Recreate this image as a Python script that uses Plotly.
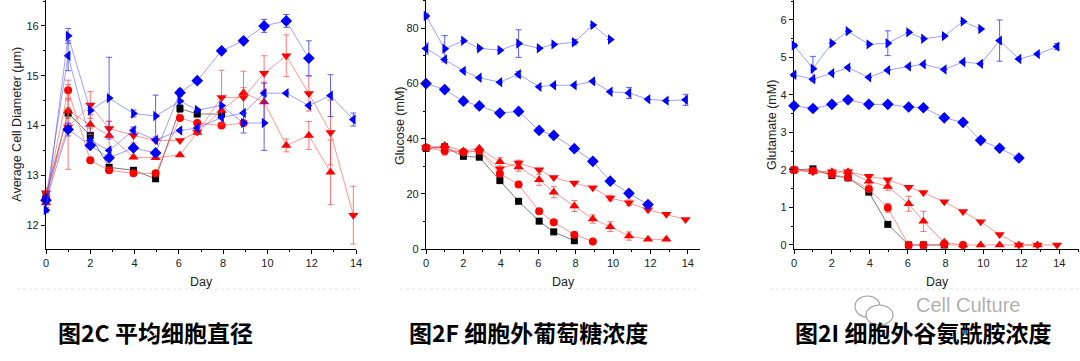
import plotly.graph_objects as go

# ---------------- data ----------------
days = [0, 1, 2, 2.85, 3.95, 4.95, 6.05, 6.83, 7.93, 8.92, 9.85, 10.85, 11.87, 12.85, 13.88]

series_names = ["black_square", "red_circle", "red_up", "red_down", "blue_diamond", "blue_left", "blue_right"]

# Average cell diameter (um)
diam_black = [12.6, 14.25, 13.8, 13.16, 13.1, 12.93, 14.34, 14.23, 14.23]
diam_red_circle = [12.55, 14.71, 13.3, 13.1, 13.04, 13.04, 14.15, 14.05, 14.0, 14.05]
diam_red_up = [12.45, 14.29, 14.02, 13.8, 13.36, 13.35, 13.41, 13.86, 14.3, 14.66, 14.47, 13.6, 13.8, 13.06]
diam_red_down = [12.65, 13.97, 14.41, 13.94, 13.8, 13.7, 13.7, 13.87, 14.56, 14.56, 15.05, 15.4, 14.64, 13.86, 12.2]
diam_blue_diamond = [12.5, 13.92, 13.6, 13.35, 13.55, 13.45, 14.66, 14.9, 15.5, 15.7, 16.0, 16.1, 15.35]
diam_blue_left = [12.55, 15.4, 13.7, 13.5, 13.9, 13.71, 13.9, 13.95, 14.16, 14.25, 14.65, 14.65, 14.4, 14.6, 14.12]
diam_blue_right = [12.3, 15.8, 14.3, 14.55, 14.24, 14.19, 14.49, 14.31, 14.4, 14.05, 14.05]

diam_err_black = [None, 0.1, 0.15, None, 0.05, 0.05, 0.08, 0.05, None]
diam_err_red_circle = [0.15, 0.2, None, None, 0.05, 0.05, None, None, None, None]
diam_err_red_up = [None, 0.25, 0.2, 0.28, None, None, None, None, 0.25, 0.1, 0.4, 0.13, 0.28, 0.65]
diam_err_red_down = [0.1, 0.85, 0.27, 0.15, 0.15, None, None, None, 0.55, 0.53, 0.35, 0.42, 0.35, 0.65, 0.58]
diam_err_blue_diamond = [None, 0.13, None, None, None, None, 0.07, None, None, None, 0.13, 0.13, 0.35]
diam_err_blue_left = [None, 0.3, None, None, 0.07, None, None, None, None, None, 0.2, None, None, 0.42, 0.13]
diam_err_blue_right = [0.05, 0.15, None, 0.82, 0.07, 0.42, None, None, None, 0.2, 0.55]

# Glucose (mM)
gluc_black = [36.5, 37.0, 33.6, 33.3, 24.8, 17.3, 10.1, 6.2, 3.0]
gluc_red_circle = [36.8, 35.5, 35.2, 35.5, 27.3, 23.4, 13.7, 9.7, 5.2, 2.7]
gluc_red_up = [36.8, 37.5, 35.5, 36.5, 31.6, 29.7, 25.1, 20.6, 15.6, 10.9, 8.1, 4.7, 3.5, 3.5]
gluc_red_down = [36.8, 36.5, 35.0, 35.5, 29.1, 31.2, 28.7, 25.9, 23.9, 22.2, 18.5, 16.8, 14.2, 12.6, 10.7]
gluc_blue_diamond = [60.0, 57.8, 53.6, 51.9, 49.3, 49.9, 43.0, 41.2, 36.4, 31.8, 24.6, 20.2, 16.1]
gluc_blue_left = [72.7, 68.7, 64.6, 62.1, 60.5, 63.4, 58.8, 59.4, 59.4, 60.8, 57.0, 56.6, 54.3, 53.8, 54.1]
gluc_blue_right = [84.5, 72.6, 75.5, 72.8, 72.1, 74.5, 72.8, 74.2, 75.0, 81.2, 76.0]

gluc_err_black = [None, 1.2, None, None, None, None, None, None, None]
gluc_err_red_circle = [1.0, 1.5, None, None, None, None, None, None, None, None]
gluc_err_red_up = [None, None, None, None, 1.5, 1.5, 2.0, 2.0, 2.0, 1.5, 1.8, 1.5, None, None]
gluc_err_red_down = [None, None, None, None, None, 1.0, None, None, None, None, 1.0, 1.0, None, None, None]
gluc_err_blue_diamond = [None] * 13
gluc_err_blue_left = [2.0, None, None, None, None, 1.0, None, None, None, None, None, 2.0, None, None, 2.0]
gluc_err_blue_right = [1.0, 4.8, None, None, None, 5.0, None, None, 1.0, None, None]

# Glutamate (mM)
glut_black = [2.0, 2.03, 1.85, 1.79, 1.41, 0.55, 0, 0, 0]
glut_red_circle = [2.0, 1.98, 1.88, 1.8, 1.49, 0.99, 0, 0, 0.02, 0]
glut_red_up = [2.0, 1.95, 1.95, 1.95, 1.7, 1.56, 1.1, 0.63, 0.07, 0, 0, 0, 0, 0]
glut_red_down = [2.0, 1.95, 1.95, 1.95, 1.83, 1.74, 1.54, 1.4, 1.15, 0.89, 0.62, 0.28, 0, 0, 0]
glut_blue_diamond = [3.71, 3.64, 3.75, 3.87, 3.75, 3.75, 3.68, 3.66, 3.39, 3.27, 2.79, 2.58, 2.32]
glut_blue_left = [4.54, 4.42, 4.58, 4.73, 4.47, 4.66, 4.76, 4.82, 4.68, 4.88, 4.83, 5.45, 4.96, 5.09, 5.29]
glut_blue_right = [5.32, 4.70, 5.38, 5.7, 5.35, 5.38, 5.67, 5.5, 5.57, 5.96, 5.76]

glut_err_black = [None, 0.05, None, None, None, None, None, None, None]
glut_err_red_circle = [None, None, None, None, None, 0.12, None, None, None, None]
glut_err_red_up = [None, None, None, None, 0.1, 0.1, 0.2, 0.27, 0.05, None, None, None, None, None]
glut_err_red_down = [None] * 15
glut_err_blue_diamond = [None] * 13
glut_err_blue_left = [0.05, None, None, None, None, None, None, None, None, None, None, 0.55, None, None, 0.08]
glut_err_blue_right = [0.05, 0.33, None, None, None, 0.33, None, None, None, None, None]

x_tick_vals = [0, 2, 4, 6, 8, 10, 12, 14]
diam_ticks = [12, 13, 14, 15, 16]
gluc_ticks = [0, 20, 40, 60, 80]
glut_ticks = [0, 1, 2, 3, 4, 5, 6]

captions = ["图2C 平均细胞直径", "图2F 细胞外葡萄糖浓度", "图2I 细胞外谷氨酰胺浓度"]
y_titles = ["Average Cell Diameter (μm)", "Glucose (mM)", "Glutamate (mM)"]

# ---------------- styles ----------------
styles = {
    "black_square": dict(symbol="square", color="#000000", line="rgba(90,90,90,0.8)", err="rgba(60,60,60,0.7)", size=7),
    "red_circle": dict(symbol="circle", color="#FF0000", line="rgba(255,80,80,0.6)", err="rgba(255,60,60,0.7)", size=8),
    "red_up": dict(symbol="triangle-up", color="#FF0000", line="rgba(255,80,80,0.6)", err="rgba(255,60,60,0.7)", size=9),
    "red_down": dict(symbol="triangle-down", color="#FF0000", line="rgba(255,80,80,0.6)", err="rgba(255,60,60,0.7)", size=9),
    "blue_diamond": dict(symbol="diamond", color="#0000FF", line="rgba(80,80,255,0.55)", err="rgba(40,40,255,0.75)", size=9),
    "blue_left": dict(symbol="triangle-left", color="#0000FF", line="rgba(80,80,255,0.55)", err="rgba(40,40,255,0.75)", size=9),
    "blue_right": dict(symbol="triangle-right", color="#0000FF", line="rgba(80,80,255,0.55)", err="rgba(40,40,255,0.75)", size=9),
}

panels = [
    ([diam_black, diam_red_circle, diam_red_up, diam_red_down, diam_blue_diamond, diam_blue_left, diam_blue_right],
     [diam_err_black, diam_err_red_circle, diam_err_red_up, diam_err_red_down, diam_err_blue_diamond, diam_err_blue_left, diam_err_blue_right]),
    ([gluc_black, gluc_red_circle, gluc_red_up, gluc_red_down, gluc_blue_diamond, gluc_blue_left, gluc_blue_right],
     [gluc_err_black, gluc_err_red_circle, gluc_err_red_up, gluc_err_red_down, gluc_err_blue_diamond, gluc_err_blue_left, gluc_err_blue_right]),
    ([glut_black, glut_red_circle, glut_red_up, glut_red_down, glut_blue_diamond, glut_blue_left, glut_blue_right],
     [glut_err_black, glut_err_red_circle, glut_err_red_up, glut_err_red_down, glut_err_blue_diamond, glut_err_blue_left, glut_err_blue_right]),
]

fig = go.Figure()
for pi, (vals, errs) in enumerate(panels):
    suffix = "" if pi == 0 else str(pi + 1)
    for name, v, e in zip(series_names, vals, errs):
        st = styles[name]
        fig.add_trace(go.Scatter(
            x=days[:len(v)], y=v, mode="lines+markers",
            xaxis="x" + suffix, yaxis="y" + suffix,
            line=dict(color=st["line"], width=1),
            marker=dict(symbol=st["symbol"], color=st["color"], size=st["size"], line=dict(width=0)),
            error_y=dict(type="data", array=e, color=st["err"], thickness=1, width=3),
            cliponaxis=False, showlegend=False, name=name,
        ))

W, H = 1080, 361
def px(x):
    return x / W
def py(y):
    return 1 - y / H

ydom = [py(249), 1]
tickfont = dict(family="Liberation Sans, Arial", size=11, color="#222222")
axis_common = dict(showgrid=False, zeroline=False, showline=True, linecolor="#000000", linewidth=1.3,
                   ticks="outside", ticklen=4, tickwidth=1, tickcolor="#000000", tickfont=tickfont,
                   automargin=False)

xdoms = [[px(46), px(356)], [px(426), px(700)], [px(794), px(1079)]]
xranges = [[0, 14], [0, 14.65], [0, 15.04]]
yranges = [[11.52, 16.52], [0, 90.3], [-0.107, 6.533]]
yticks = [diam_ticks, gluc_ticks, glut_ticks]
yminor = [0.5, 10, 0.5]

layout = dict(width=W, height=H, margin=dict(l=0, r=0, t=0, b=0),
              paper_bgcolor="white", plot_bgcolor="white")
for i in range(3):
    s = "" if i == 0 else str(i + 1)
    layout["xaxis" + s] = dict(axis_common, domain=xdoms[i], range=xranges[i], anchor="y" + s,
                               tickvals=x_tick_vals,
                               minor=dict(ticks="outside", ticklen=2, dtick=1, tick0=0, tickcolor="#000000"))
    layout["yaxis" + s] = dict(axis_common, domain=ydom, range=yranges[i], anchor="x" + s,
                               tickvals=yticks[i],
                               minor=dict(ticks="outside", ticklen=2, dtick=yminor[i], tick0=0, tickcolor="#000000"))
fig.update_layout(**layout)

annots = []
title_font = dict(family="Liberation Sans, Arial", size=12.5, color="#222222")
ytitle_pos = [(16.7, 124), (400, 126), (772, 125)]
for i in range(3):
    annots.append(dict(x=px(ytitle_pos[i][0]), y=py(ytitle_pos[i][1]), xref="paper", yref="paper",
                       text=y_titles[i], textangle=-90, showarrow=False, font=title_font,
                       xanchor="center", yanchor="middle"))
day_x = [201, 563, 937]
for i in range(3):
    annots.append(dict(x=px(day_x[i]), y=py(282), xref="paper", yref="paper", text="Day",
                       showarrow=False, font=title_font, xanchor="center", yanchor="middle"))
cap_x = [155, 528, 923]
cap_font = dict(family="Noto Sans CJK SC", size=23, color="#000000", weight=700)
for i in range(3):
    annots.append(dict(x=px(cap_x[i]), y=py(332), xref="paper", yref="paper", text=captions[i],
                       showarrow=False, font=cap_font, xanchor="center", yanchor="middle"))
# watermark
annots.append(dict(x=px(968), y=py(305), xref="paper", yref="paper", text="Cell Culture",
                   showarrow=False, font=dict(family="Liberation Sans, Arial", size=20, color="rgba(140,140,140,0.7)"),
                   xanchor="center", yanchor="middle"))

shapes = []
for x0, x1 in [(17, 360), (400, 700), (770, 1080)]:
    shapes.append(dict(type="line", xref="paper", yref="paper", x0=px(x0), x1=px(x1), y0=py(289), y1=py(289),
                       line=dict(color="#E2E2E2", width=1, dash="dot")))
shapes.append(dict(type="circle", xref="paper", yref="paper", x0=px(855), x1=px(880), y0=py(317), y1=py(296),
                   line=dict(color="rgba(140,140,140,0.8)", width=1.2), fillcolor="white"))
shapes.append(dict(type="circle", xref="paper", yref="paper", x0=px(866), x1=px(893), y0=py(325), y1=py(305),
                   line=dict(color="rgba(140,140,140,0.8)", width=1.2), fillcolor="white"))
fig.update_layout(annotations=annots, shapes=shapes)

fig.write_html("out.html", config={"displayModeBar": False},
               post_script="document.body.style.margin='0px';")
